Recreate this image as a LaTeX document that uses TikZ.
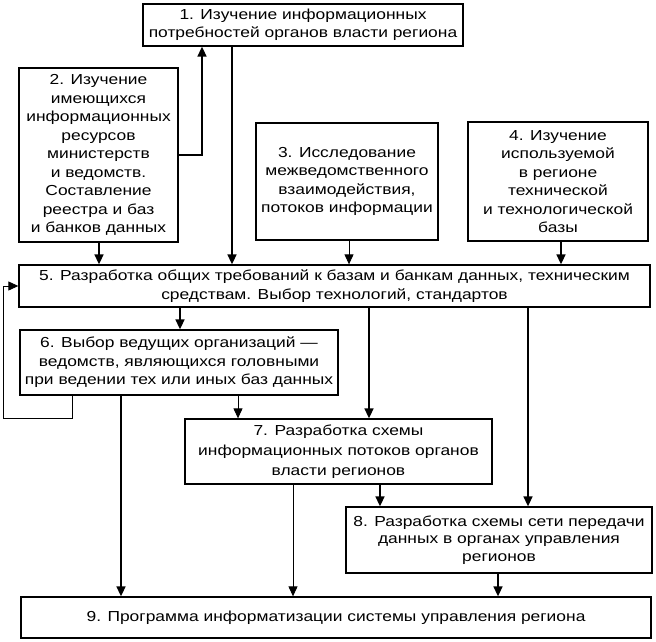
\documentclass[tikz,border=0pt]{standalone}
\usepackage{fontspec}
\setmainfont{Liberation Sans}[FakeStretch=1.2]
\usetikzlibrary{arrows.meta}
\begin{document}
\begin{tikzpicture}[x=1pt,y=-1pt,
  box/.style={draw,line width=1.3pt,align=center,inner sep=0pt,
    font=\fontsize{14.5}{18.5}\selectfont},
  arr/.style={line width=1.6pt,-{Triangle[width=9pt,length=10pt]}},
  tarr/.style={line width=1pt,-{Triangle[width=9pt,length=10pt]}}]
\useasboundingbox (0,0) rectangle (656,642);
\node[box,minimum width=320pt,minimum height=42pt] (b1) at (303,25)
  {1. Изучение информационных\\потребностей органов власти региона};
\node[box,minimum width=159pt,minimum height=174pt] (b2) at (98.5,155)
  {2. Изучение\\имеющихся\\информационных\\ресурсов\\министерств\\и ведомств.\\Составление\\реестра и баз\\и банков данных};
\node[box,minimum width=182pt,minimum height=117pt] (b3) at (347,181.5)
  {3. Исследование\\межведомственного\\взаимодействия,\\потоков информации};
\node[box,minimum width=180pt,minimum height=119pt] (b4) at (558,181.5)
  {4. Изучение\\используемой\\в регионе\\технической\\и технологической\\базы};
\node[box,minimum width=631pt,minimum height=42pt] (b5) at (334.5,286)
  {5. Разработка общих требований к базам и банкам данных, техническим\\средствам. Выбор технологий, стандартов};
\node[box,minimum width=318pt,minimum height=65pt] (b6) at (179,362.5)
  {6. Выбор ведущих организаций —\\ведомств, являющихся головными\\при ведении тех или иных баз данных};
\node[box,minimum width=307pt,minimum height=65pt,font=\fontsize{14.5}{20}\selectfont] (b7) at (338.5,451.5)
  {7. Разработка схемы\\информационных потоков органов\\власти регионов};
\node[box,minimum width=306pt,minimum height=66pt,font=\fontsize{14.5}{17.5}\selectfont] (b8) at (499,540)
  {8. Разработка схемы сети передачи\\данных в органах управления\\регионов};
\node[box,minimum width=630pt,minimum height=41pt] (b9) at (336,617.5)
  {9. Программа информатизации системы управления региона};
% x positions
\foreach \n/\x in {x72/72,x99/99,x121/121,x180/180,x232/232,x238/238,x293/293,
  x349/349,x369/369,x380/380,x498/498,x528/528,x561/561}
  \coordinate (\n) at (\x,0);
\coordinate (c12) at (202,155);
\coordinate (fbA) at (72,418);
\coordinate (fbB) at (3,418);
\coordinate (fbC) at (3,286);
% connectors
\draw[arr] (b2.east) -- (c12) -- (c12 |- b1.south);
\draw[arr] (x232 |- b1.south) -- (x232 |- b5.north);
\draw[arr] (x99 |- b2.south) -- (x99 |- b5.north);
\draw[tarr] (x349 |- b3.south) -- (x349 |- b5.north);
\draw[arr] (x561 |- b4.south) -- (x561 |- b5.north);
\draw[arr] (x180 |- b5.south) -- (x180 |- b6.north);
\draw[arr] (x369 |- b5.south) -- (x369 |- b7.north);
\draw[arr] (x528 |- b5.south) -- (x528 |- b8.north);
\draw[tarr] (x238 |- b6.south) -- (x238 |- b7.north);
\draw[arr] (x121 |- b6.south) -- (x121 |- b9.north);
\draw[tarr] (x72 |- b6.south) -- (fbA) -- (fbB) -- (fbC) -- (b5.west);
\draw[arr] (x380 |- b7.south) -- (x380 |- b8.north);
\draw[tarr] (x293 |- b7.south) -- (x293 |- b9.north);
\draw[arr] (x498 |- b8.south) -- (x498 |- b9.north);
\end{tikzpicture}
\end{document}
